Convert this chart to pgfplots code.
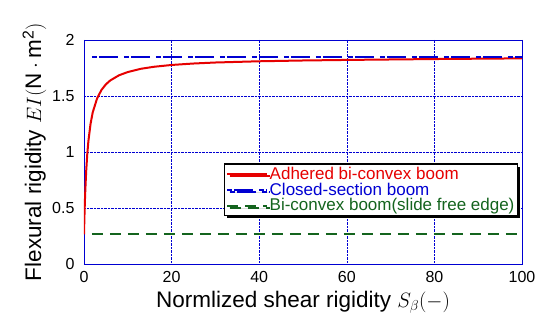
\documentclass[border=0pt]{standalone}
\usepackage{pgfplots}
\pgfplotsset{compat=1.18}
\usepackage{fontspec}
\setmainfont{Liberation Sans}
\usetikzlibrary{shadows}
\definecolor{myred}{RGB}{230,0,0}
\definecolor{myblue}{RGB}{0,0,210}
\definecolor{mygreen}{RGB}{20,100,30}
\begin{document}
\begin{tikzpicture}
\useasboundingbox (-84pt,-56pt) rectangle (462pt,264pt);
\begin{axis}[
  at={(0,0)}, anchor=south west,
  scale only axis, width=438pt, height=224pt,
  xmin=0, xmax=100, ymin=0, ymax=2,
  xtick={0,20,40,60,80,100}, ytick={0,0.5,1,1.5,2},
  /pgf/number format/assume math mode=true,
  tick label style={font=\fontsize{16}{18}\selectfont, black},
  xticklabel style={yshift=-4pt},
  yticklabel style={/pgf/number format/fixed, xshift=-6pt},
  axis line style={myblue, line width=0.8pt},
  tick style={myblue},
  major tick length=0pt,
  grid=major,
  major grid style={myblue, densely dotted, line width=0.5pt},
  xlabel={Normlized shear rigidity $S_{\beta}(-)$},
  ylabel={Flexural rigidity $EI(\mathrm{N\cdot m^2})$},
  label style={font=\fontsize{22.5}{24}\selectfont},
  xlabel style={yshift=-1pt},
  ylabel style={yshift=-1pt},
  legend style={at={(rel axis cs:0.991,0.214)}, anchor=south east,
    draw=black, line width=1.2pt, fill=white,
    font=\fontsize{17}{19}\selectfont,
    drop shadow={shadow xshift=2.5pt, shadow yshift=-2.5pt, fill=black, opacity=1},
    row sep=-1pt, inner sep=1.5pt,
    nodes={inner sep=1.5pt}},
  legend cell align=left,
  legend image code/.code={\draw[#1] (0pt,0pt) -- (40pt,0pt);},
]
\addplot[myred, line width=2pt] coordinates {
(0,0.265) (0.1,0.423) (0.2,0.552) (0.3,0.660) (0.5,0.829) (0.75,0.983)
(1,1.096) (1.5,1.253) (2,1.355) (3,1.480) (4,1.555) (5,1.604) (6,1.639)
(8,1.685) (10,1.714) (13,1.743) (16,1.761) (20,1.777) (25,1.790) (30,1.799)
(40,1.810) (50,1.817) (60,1.822) (70,1.826) (80,1.830) (90,1.833) (100,1.836)};
\addlegendentry[text=myred]{Adhered bi-convex boom}
\addplot[myblue, line width=2.2pt, dash pattern=on 5pt off 2pt on 19pt off 6pt] coordinates {(1.8,1.845) (100,1.845)};
\addlegendentry[text=myblue]{Closed-section boom}
\addplot[mygreen, line width=2pt, dash pattern=on 11pt off 7pt] coordinates {(1.8,0.265) (100,0.265)};
\addlegendentry[text=mygreen]{Bi-convex boom(slide free edge)}
\end{axis}
\end{tikzpicture}
\end{document}
